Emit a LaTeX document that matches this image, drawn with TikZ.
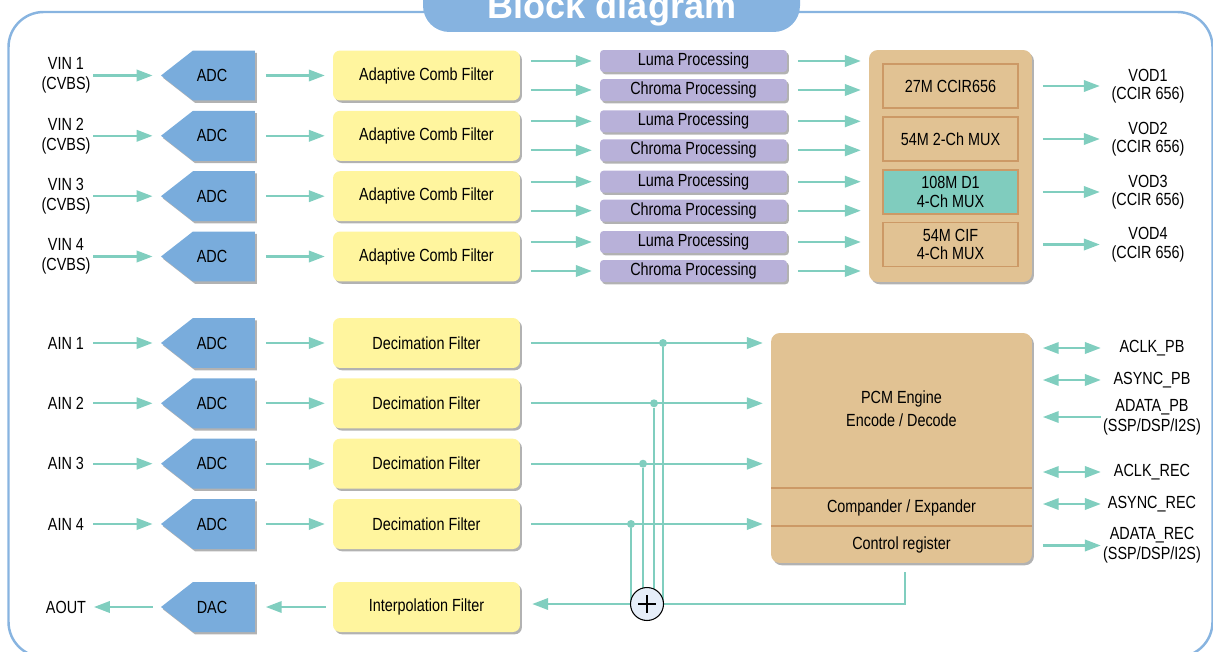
\documentclass[tikz,border=0pt]{standalone}
\usepackage{fontspec}
\setmainfont{Liberation Sans}[FakeStretch=0.82]
\newfontfamily\titlefont{Liberation Sans}
\usetikzlibrary{arrows.meta,shapes.symbols,shadows}
\definecolor{framecol}{HTML}{88B4E0}
\definecolor{bannerblue}{HTML}{86B3E0}
\definecolor{wire}{HTML}{80CEBF}
\definecolor{adcblue}{HTML}{79ACDC}
\definecolor{filteryellow}{HTML}{FFF59E}
\definecolor{procpurple}{HTML}{B8B1D9}
\definecolor{tanfill}{HTML}{E1C293}
\definecolor{tanedge}{HTML}{CC9966}
\definecolor{muxteal}{HTML}{80CCBE}
\definecolor{sumblue}{HTML}{E6EEF9}

\begin{document}
\begin{tikzpicture}[x=0.02cm, y=-0.02cm,
  every node/.style={font=\fontsize{10}{11.5}\selectfont},
  boxshadow/.style={drop shadow={shadow xshift=1.1pt, shadow yshift=-1.3pt, fill=black!30, opacity=1}},
  adc/.style={signal, signal to=west, signal pointer angle=76, fill=adcblue, minimum width=1.88cm, minimum height=1cm, inner sep=0pt, boxshadow, label={[xshift=-6.8pt]center:#1}},
  filt/.style={rectangle, rounded corners=4pt, fill=filteryellow, minimum width=3.74cm, minimum height=1cm, boxshadow},
  proc/.style={rectangle, rounded corners=2pt, fill=procpurple, minimum width=3.74cm, minimum height=0.44cm, inner sep=0pt, boxshadow},
  mux/.style={rectangle, rounded corners=5pt, fill=tanfill, boxshadow},
  subbox/.style={rectangle, draw=tanedge, line width=0.8pt, fill=tanfill, minimum width=2.7cm, minimum height=0.88cm, align=center, font=\fontsize{10}{10.5}\selectfont},
  lbl/.style={align=center, minimum width=1cm, inner sep=0pt},
  outlbl/.style={align=center, minimum width=1.6cm, inner sep=0pt, font=\fontsize{10}{10.5}\selectfont},
  sig/.style={align=center, minimum width=2cm, inner sep=0pt, font=\fontsize{10}{11.3}\selectfont},
  joint/.style={circle, fill=wire, inner sep=0pt, minimum size=0.16cm},
  adder/.style={circle, draw=black, line width=0.6pt, fill=sumblue, minimum size=0.66cm, inner sep=0pt},
  link/.style={draw=wire, line width=1.2pt},
  arr/.style={link, -{Triangle[length=9pt,width=6.5pt]}, shorten >=4.5pt},
  dbl/.style={link, {Triangle[length=9pt,width=6.5pt]}-{Triangle[length=9pt,width=6.5pt]}, shorten <=6pt, shorten >=0.5pt},
  tailgap/.style={shorten <=6pt}]

% frame and title
\useasboundingbox (0,0) rectangle (1213,652);
\clip (0,0) rectangle (1213,652);
\draw[framecol, line width=1.4pt, rounded corners=20pt] (8.5,12) rectangle (1212.5,657);
\fill[bannerblue, rounded corners=15pt] (423,-30) rectangle (800,32);
\node[text=white, anchor=base, font=\titlefont\bfseries\fontsize{20.5}{24}\selectfont] (title) at (612,19) {Block diagram};

% video inputs
\node[lbl] (vin1) at (66,75.5) {VIN 1\\(CVBS)};
\node[lbl] (vin2) at (66,135.8) {VIN 2\\(CVBS)};
\node[lbl] (vin3) at (66,196.2) {VIN 3\\(CVBS)};
\node[lbl] (vin4) at (66,256.5) {VIN 4\\(CVBS)};
\node[adc=ADC] (vadc1) at (224,75.5) {};
\node[adc=ADC] (vadc2) at (224,135.8) {};
\node[adc=ADC] (vadc3) at (224,196.2) {};
\node[adc=ADC] (vadc4) at (224,256.5) {};
\node[filt] (comb1) at (426.5,75.5) {Adaptive Comb Filter};
\node[filt] (comb2) at (426.5,135.8) {Adaptive Comb Filter};
\node[filt] (comb3) at (426.5,196.2) {Adaptive Comb Filter};
\node[filt] (comb4) at (426.5,256.5) {Adaptive Comb Filter};
\node[proc] (luma1) at (693.5,61) {Luma Processing};
\node[proc] (chroma1) at (693.5,90) {Chroma Processing};
\node[proc] (luma2) at (693.5,121.3) {Luma Processing};
\node[proc] (chroma2) at (693.5,150.3) {Chroma Processing};
\node[proc] (luma3) at (693.5,181.7) {Luma Processing};
\node[proc] (chroma3) at (693.5,210.7) {Chroma Processing};
\node[proc] (luma4) at (693.5,242) {Luma Processing};
\node[proc] (chroma4) at (693.5,271) {Chroma Processing};

% video mux
\node[mux, minimum width=3.26cm, minimum height=4.64cm] (mux) at (950.5,166) {};
\node[subbox] (mode1) at (950.5,86) {27M CCIR656};
\node[subbox] (mode2) at (950.5,139) {54M 2-Ch MUX};
\node[subbox, fill=muxteal] (mode3) at (950.5,192) {108M D1\\4-Ch MUX};
\node[subbox] (mode4) at (950.5,244.5) {54M CIF\\4-Ch MUX};
\node[outlbl] (vod1) at (1148,86) {VOD1\\(CCIR 656)};
\node[outlbl] (vod2) at (1148,139) {VOD2\\(CCIR 656)};
\node[outlbl] (vod3) at (1148,192) {VOD3\\(CCIR 656)};
\node[outlbl] (vod4) at (1148,244.5) {VOD4\\(CCIR 656)};

% video edges
\draw[arr, shorten <=1pt] (vin1) -- (vadc1);
\draw[arr, shorten <=1pt] (vin2) -- (vadc2);
\draw[arr, shorten <=1pt] (vin3) -- (vadc3);
\draw[arr, shorten <=1pt] (vin4) -- (vadc4);
\draw[arr, tailgap] (vadc1) -- (comb1);
\draw[arr, tailgap] (vadc2) -- (comb2);
\draw[arr, tailgap] (vadc3) -- (comb3);
\draw[arr, tailgap] (vadc4) -- (comb4);
\draw[arr, tailgap] (comb1.east |- luma1) -- (luma1);
\draw[arr, tailgap] (comb1.east |- chroma1) -- (chroma1);
\draw[arr, tailgap] (comb2.east |- luma2) -- (luma2);
\draw[arr, tailgap] (comb2.east |- chroma2) -- (chroma2);
\draw[arr, tailgap] (comb3.east |- luma3) -- (luma3);
\draw[arr, tailgap] (comb3.east |- chroma3) -- (chroma3);
\draw[arr, tailgap] (comb4.east |- luma4) -- (luma4);
\draw[arr, tailgap] (comb4.east |- chroma4) -- (chroma4);
\draw[arr, tailgap] (luma1) -- (luma1 -| mux.west);
\draw[arr, tailgap] (chroma1) -- (chroma1 -| mux.west);
\draw[arr, tailgap] (luma2) -- (luma2 -| mux.west);
\draw[arr, tailgap] (chroma2) -- (chroma2 -| mux.west);
\draw[arr, tailgap] (luma3) -- (luma3 -| mux.west);
\draw[arr, tailgap] (chroma3) -- (chroma3 -| mux.west);
\draw[arr, tailgap] (luma4) -- (luma4 -| mux.west);
\draw[arr, tailgap] (chroma4) -- (chroma4 -| mux.west);
\draw[arr, tailgap] (mux.east |- vod1) -- (vod1);
\draw[arr, tailgap] (mux.east |- vod2) -- (vod2);
\draw[arr, tailgap] (mux.east |- vod3) -- (vod3);
\draw[arr, tailgap] (mux.east |- vod4) -- (vod4);

% audio inputs and output
\node[lbl] (ain1) at (66,343) {AIN 1};
\node[lbl] (ain2) at (66,403.3) {AIN 2};
\node[lbl] (ain3) at (66,463.7) {AIN 3};
\node[lbl] (ain4) at (66,524) {AIN 4};
\node[lbl] (aout) at (66,607) {AOUT};
\node[adc=ADC] (aadc1) at (224,343) {};
\node[adc=ADC] (aadc2) at (224,403.3) {};
\node[adc=ADC] (aadc3) at (224,463.7) {};
\node[adc=ADC] (aadc4) at (224,524) {};
\node[adc=DAC] (dac) at (224,607) {};
\node[filt] (dec1) at (426.5,343) {Decimation Filter};
\node[filt] (dec2) at (426.5,403.3) {Decimation Filter};
\node[filt] (dec3) at (426.5,463.7) {Decimation Filter};
\node[filt] (dec4) at (426.5,524) {Decimation Filter};
\node[filt] (interp) at (426.5,607) {Interpolation Filter};

% pcm engine
\node[mux, minimum width=5.22cm, minimum height=4.6cm] (pcm) at (901.5,448) {};
\node[font=\fontsize{10}{13}\selectfont, align=center] (pcmtext) at (901.5,408.5) {PCM Engine\\Encode / Decode};
\coordinate (sepa) at (771,488);
\coordinate (sepb) at (771,526);
\draw[tanedge, line width=0.9pt] (sepa) -- (sepa -| pcm.east);
\draw[tanedge, line width=0.9pt] (sepb) -- (sepb -| pcm.east);
\node (compand) at (901.5,507.5) {Compander / Expander};
\node (ctrlreg) at (901.5,545) {Control register};

% audio edges
\draw[arr, shorten <=1pt] (ain1) -- (aadc1);
\draw[arr, shorten <=1pt] (ain2) -- (aadc2);
\draw[arr, shorten <=1pt] (ain3) -- (aadc3);
\draw[arr, shorten <=1pt] (ain4) -- (aadc4);
\draw[arr, tailgap] (aadc1) -- (dec1);
\draw[arr, tailgap] (aadc2) -- (dec2);
\draw[arr, tailgap] (aadc3) -- (dec3);
\draw[arr, tailgap] (aadc4) -- (dec4);
\draw[arr, tailgap] (dec1) -- (dec1 -| pcm.west);
\draw[arr, tailgap] (dec2) -- (dec2 -| pcm.west);
\draw[arr, tailgap] (dec3) -- (dec3 -| pcm.west);
\draw[arr, tailgap] (dec4) -- (dec4 -| pcm.west);
\draw[arr, shorten <=4pt, shorten >=6pt] (interp) -- (dac);
\draw[arr, shorten <=4.5pt, shorten >=1.5pt] (dac) -- (aout);

% mixing back to the output
\coordinate (s) at (647,604);
\node[joint] (j1) at (663,343) {};
\node[joint] (j2) at (654,403.3) {};
\node[joint] (j3) at (643,463.7) {};
\node[joint] (j4) at (631,524) {};
\draw[link] (j1) -- (j1 |- s);
\draw[link] (j2) -- (j2 |- s);
\draw[link] (j3) -- (j3 |- s);
\draw[link] (j4) -- (j4 |- s);
\draw[link] ([xshift=2pt]pcm.south) ++(0,9) |- (s);
\draw[arr, shorten >=6.8pt] (s) -- (s -| interp.east);
\node[adder] (sum) at (s) {};
\draw[line width=0.6pt] (sum.center) ++(-9,0) -- ++(18,0) (sum.center) ++(0,-9) -- ++(0,18);

% audio interface
\node[sig] (aclkpb) at (1152,348) {ACLK\_PB};
\node[sig] (asyncpb) at (1152,380) {ASYNC\_PB};
\node[sig] (adatapb) at (1152,417) {ADATA\_PB\\(SSP/DSP/I2S)};
\node[sig] (aclkrec) at (1152,472) {ACLK\_REC};
\node[sig] (asyncrec) at (1152,504) {ASYNC\_REC};
\node[sig] (adatarec) at (1152,545.5) {ADATA\_REC\\(SSP/DSP/I2S)};
\draw[dbl] (pcm.east |- aclkpb) -- (aclkpb);
\draw[dbl] (pcm.east |- asyncpb) -- (asyncpb);
\draw[arr, shorten <=0.5pt, shorten >=6pt] (adatapb) -- (adatapb -| pcm.east);
\draw[dbl] (pcm.east |- aclkrec) -- (aclkrec);
\draw[dbl] (pcm.east |- asyncrec) -- (asyncrec);
\draw[arr, shorten <=6pt, shorten >=0.5pt] (pcm.east |- adatarec) -- (adatarec);

\end{tikzpicture}
\end{document}
